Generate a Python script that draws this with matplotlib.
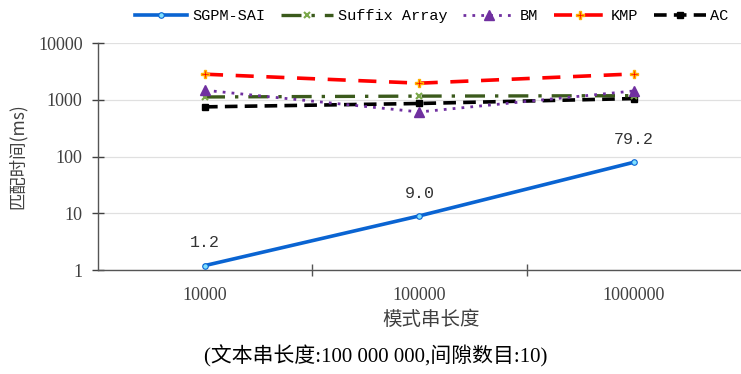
import numpy as np
import matplotlib.pyplot as plt
from matplotlib.ticker import FixedLocator, NullFormatter

# data
categories = ['10000', '100000', '1000000']
sgpm_sai = [1.2, 9.0, 79.2]
suffix_array = [1120, 1160, 1180]
bm = [1470, 610, 1430]
kmp = [2820, 1960, 2850]
ac = [750, 860, 1050]
sgpm_labels = ['1.2', '9.0', '79.2']

plt.rcParams['font.family'] = ['Liberation Serif', 'Noto Sans CJK SC']

fig = plt.figure(figsize=(7.41, 3.74), dpi=100)
ax = fig.add_axes([0.132, 0.278, 0.868, 0.607])

x = np.arange(len(categories))

ax.plot(x, sgpm_sai, color='#0a64d2', lw=2.6, marker='o', ms=4,
        mfc='#7fe0ff', mec='#0a64d2', mew=0.8, label='SGPM-SAI', zorder=6)
ax.plot(x, suffix_array, color='#3b5a1c', lw=2.4, ls=(0, (6, 3, 1, 3)),
        marker='x', ms=5, mec='#7aa84a', mew=1.5, label='Suffix Array', zorder=4)
ax.plot(x, bm, color='#7030a0', lw=2.0, ls=(0, (1, 2.2)),
        marker='^', ms=7, mfc='#7030a0', mec='#7030a0', label='BM', zorder=4)
ax.plot(x, kmp, color='#ff0000', lw=2.6, ls=(0, (5, 3.5)),
        marker='P', ms=6, mfc='#ff0000', mec='#ffb000', mew=1.0, label='KMP', zorder=5)
ax.plot(x, ac, color='#000000', lw=2.6, ls=(0, (3.5, 2)),
        marker='s', ms=5, mfc='#000000', label='AC', zorder=3)

for xi, yi, t in zip(x, sgpm_sai, sgpm_labels):
    ax.annotate(t, (xi, yi), xytext=(0, 11), textcoords='offset points',
                ha='center', va='bottom', fontsize=12, family='Liberation Mono',
                color='#333333')

ax.set_yscale('log')
ax.set_ylim(1, 10000)
ax.set_yticks([1, 10, 100, 1000, 10000])
ax.set_yticklabels(['1', '10', '100', '1000', '10000'])
ax.yaxis.set_minor_locator(FixedLocator([]))
ax.set_xlim(-0.5, 2.5)
ax.set_xticks(x)
ax.set_xticklabels(categories)
ax.xaxis.set_minor_locator(FixedLocator([0.5, 1.5]))
ax.xaxis.set_minor_formatter(NullFormatter())
ax.tick_params(axis='x', which='major', length=0, pad=12, labelsize=13, colors='#404040')
ax.tick_params(axis='x', which='minor', length=8, width=1, direction='inout', color='#555555')
ax.tick_params(axis='y', which='major', length=8, width=1, direction='inout',
               labelsize=13, colors='#404040', pad=7)

ax.grid(axis='y', which='major', color='#e0e0e0', lw=0.9)
ax.set_axisbelow(True)
for s in ['top', 'right']:
    ax.spines[s].set_visible(False)
for s in ['left', 'bottom']:
    ax.spines[s].set_color('#555555')
    ax.spines[s].set_linewidth(1.0)

ax.set_ylabel('匹配时间(ms)', fontsize=12.5, family=['Noto Sans CJK SC'], color='#404040', labelpad=8)

fig.text(0.582, 0.147, '模式串长度', ha='center', va='center', fontsize=14,
         family=['Noto Sans CJK SC'], color='#404040')
fig.text(0.507, 0.048, '(文本串长度:100 000 000,间隙数目:10)', ha='center', va='center',
         fontsize=15, color='#000000')

leg = fig.legend(loc='center', bbox_to_anchor=(0.583, 0.957), ncol=5, frameon=False,
                 handlelength=3.4, columnspacing=1.05, handletextpad=0.3,
                 prop={'family': 'Liberation Mono', 'size': 11})

fig.savefig('out.png', dpi=100)
